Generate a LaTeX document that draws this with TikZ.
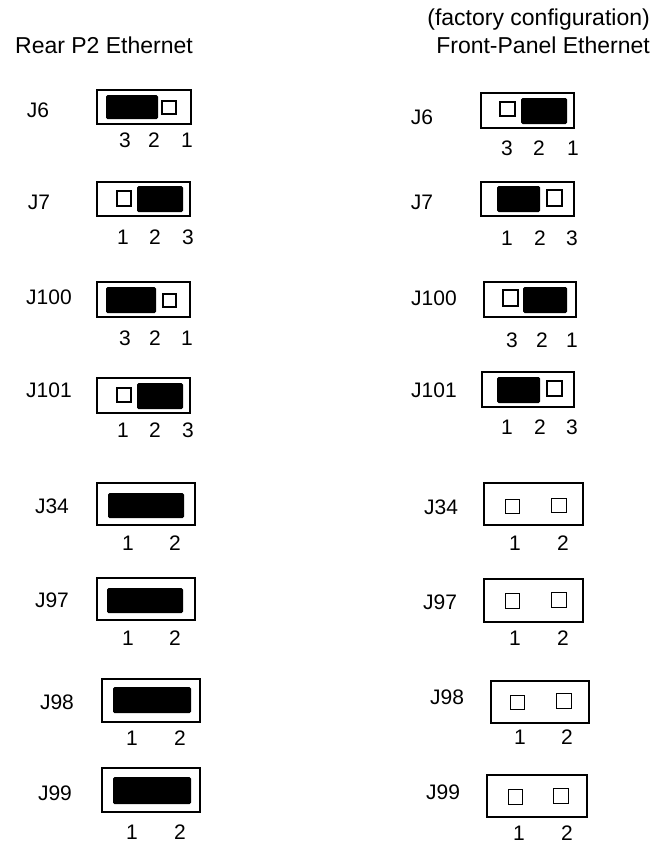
\documentclass[tikz,border=0pt]{standalone}
\usepackage{fontspec}
\setmainfont{Liberation Sans}
\begin{document}
\begin{tikzpicture}[x=1pt,y=-1pt,
  txt/.style={inner sep=0pt,font=\fontsize{21}{24}\selectfont},
  head/.style={inner sep=0pt,font=\fontsize{23}{27}\selectfont,anchor=base},
  pin/.style={txt},
  jlabel/.style={txt},
  housing/.style={draw=black,line width=2.2pt,fill=white},
  shunt/.style={fill=black,rounded corners=1.5pt},
  hole/.style={draw=black,line width=1.4pt},
  thinhole/.style={draw=black,line width=1pt}]
\useasboundingbox (0,0) rectangle (653,846);

% column headings
\node[head] (hrear) at (104,53) {Rear P2 Ethernet};
\node[head,anchor=base east] (hfact) at (650,25) {(factory configuration)};
\node[head,anchor=base east] (hfront) at (650,53) {Front-Panel Ethernet};

% ---------------- rear P2 Ethernet ----------------
% J6
\node[jlabel] (lJ6) at (38,110) {J6};
\draw[housing] (97,90) rectangle (191,124);
\fill[shunt] (106,95) rectangle (158,119);
\draw[hole] (162,101) rectangle (176,114);
\node[pin] (lJ6p3) at (125,140) {3};
\node[pin] (lJ6p2) at (154,140) {2};
\node[pin] (lJ6p1) at (187,140) {1};
% J7
\node[jlabel] (lJ7) at (39,202) {J7};
\draw[housing] (97,182) rectangle (190,216);
\draw[hole] (117,191) rectangle (131,206);
\fill[shunt] (137,186) rectangle (183,212);
\node[pin] (lJ7p1) at (123,237) {1};
\node[pin] (lJ7p2) at (155,237) {2};
\node[pin] (lJ7p3) at (188,237) {3};
% J100
\node[jlabel] (lJ100) at (49,297) {J100};
\draw[housing] (97,282) rectangle (190,317);
\fill[shunt] (106,287) rectangle (156,313);
\draw[hole] (163,294) rectangle (176,307);
\node[pin] (lJ100p3) at (125,338) {3};
\node[pin] (lJ100p2) at (155,338) {2};
\node[pin] (lJ100p1) at (187,338) {1};
% J101
\node[jlabel] (lJ101) at (49,390) {J101};
\draw[housing] (97,378) rectangle (190,413);
\draw[hole] (117,388) rectangle (131,402);
\fill[shunt] (137,383) rectangle (183,409);
\node[pin] (lJ101p1) at (123,430) {1};
\node[pin] (lJ101p2) at (155,430) {2};
\node[pin] (lJ101p3) at (188,430) {3};
% J34
\node[jlabel] (lJ34) at (52,506) {J34};
\draw[housing] (97,483) rectangle (195,525);
\fill[shunt] (108,493) rectangle (184,518);
\node[pin] (lJ34p1) at (128,543) {1};
\node[pin] (lJ34p2) at (175,543) {2};
% J97
\node[jlabel] (lJ97) at (52,600) {J97};
\draw[housing] (97,578) rectangle (195,620);
\fill[shunt] (107,588) rectangle (183,613);
\node[pin] (lJ97p1) at (128,638) {1};
\node[pin] (lJ97p2) at (175,638) {2};
% J98
\node[jlabel] (lJ98) at (57,702) {J98};
\draw[housing] (102,679) rectangle (200,722);
\fill[shunt] (113,687) rectangle (191,713);
\node[pin] (lJ98p1) at (132,738) {1};
\node[pin] (lJ98p2) at (180,738) {2};
% J99
\node[jlabel] (lJ99) at (55,793) {J99};
\draw[housing] (102,768) rectangle (200,812);
\fill[shunt] (113,777) rectangle (191,804);
\node[pin] (lJ99p1) at (132,832) {1};
\node[pin] (lJ99p2) at (180,832) {2};

% ---------------- front-panel Ethernet ----------------
% J6
\node[jlabel] (rJ6) at (422,117) {J6};
\draw[housing] (481,93) rectangle (574,128);
\draw[hole] (500,102) rectangle (515,116);
\fill[shunt] (521,98) rectangle (567,124);
\node[pin] (rJ6p3) at (507,148) {3};
\node[pin] (rJ6p2) at (539,148) {2};
\node[pin] (rJ6p1) at (573,148) {1};
% J7
\node[jlabel] (rJ7) at (422,202) {J7};
\draw[housing] (481,182) rectangle (574,216);
\fill[shunt] (497,186) rectangle (540,212);
\draw[hole] (547,190) rectangle (562,206);
\node[pin] (rJ7p1) at (507,238) {1};
\node[pin] (rJ7p2) at (540,238) {2};
\node[pin] (rJ7p3) at (572,238) {3};
% J100
\node[jlabel] (rJ100) at (434,298) {J100};
\draw[housing] (484,282) rectangle (576,317);
\draw[hole] (503,290) rectangle (518,306);
\fill[shunt] (523,287) rectangle (567,313);
\node[pin] (rJ100p3) at (512,340) {3};
\node[pin] (rJ100p2) at (542,340) {2};
\node[pin] (rJ100p1) at (572,340) {1};
% J101
\node[jlabel] (rJ101) at (434,390) {J101};
\draw[housing] (482,372) rectangle (574,407);
\fill[shunt] (497,377) rectangle (540,403);
\draw[hole] (547,381) rectangle (562,396);
\node[pin] (rJ101p1) at (507,427) {1};
\node[pin] (rJ101p2) at (540,427) {2};
\node[pin] (rJ101p3) at (572,427) {3};
% J34
\node[jlabel] (rJ34) at (441,507) {J34};
\draw[housing] (484,483) rectangle (583,525);
\draw[thinhole] (505,499) rectangle (519,513);
\draw[thinhole] (551,498) rectangle (566,512);
\node[pin] (rJ34p1) at (515,543) {1};
\node[pin] (rJ34p2) at (563,543) {2};
% J97
\node[jlabel] (rJ97) at (440,602) {J97};
\draw[housing] (484,579) rectangle (583,622);
\draw[thinhole] (505,593) rectangle (519,608);
\draw[thinhole] (551,592) rectangle (566,607);
\node[pin] (rJ97p1) at (515,638) {1};
\node[pin] (rJ97p2) at (563,638) {2};
% J98
\node[jlabel] (rJ98) at (447,697) {J98};
\draw[housing] (491,681) rectangle (589,723);
\draw[thinhole] (510,695) rectangle (524,709);
\draw[thinhole] (556,693) rectangle (571,708);
\node[pin] (rJ98p1) at (520,737) {1};
\node[pin] (rJ98p2) at (567,737) {2};
% J99
\node[jlabel] (rJ99) at (443,792) {J99};
\draw[housing] (487,775) rectangle (587,817);
\draw[thinhole] (508,789) rectangle (522,804);
\draw[thinhole] (553,788) rectangle (568,803);
\node[pin] (rJ99p1) at (519,833) {1};
\node[pin] (rJ99p2) at (567,833) {2};
\end{tikzpicture}
\end{document}
